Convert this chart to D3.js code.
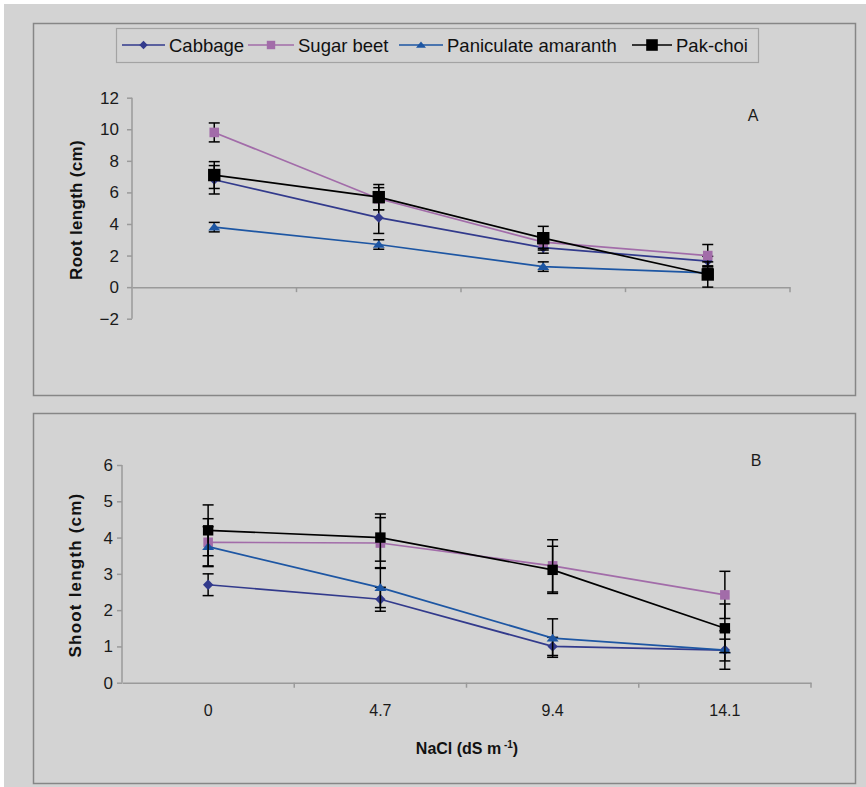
<!DOCTYPE html>
<html>
<head>
<meta charset="utf-8">
<script src="https://cdn.jsdelivr.net/npm/d3@7"></script>
<style>
  html, body { margin: 0; padding: 0; background: #fff; }
  svg { display: block; font-family: "Liberation Sans", Arial, sans-serif; }
  .ax line, .ax path { stroke: #9a9a9a; stroke-width: 1.5; }
  .ax text { fill: #1a1a1a; font-size: 17px; }
</style>
</head>
<body>
<div id="chart"></div>
<script>
"use strict";

var categories = ["0", "4.7", "9.4", "14.1"];
var seriesNames = ["Cabbage", "Sugar beet", "Paniculate amaranth", "Pak-choi"];
var seriesColors = ["#323a8c", "#a26ca9", "#1d56a3", "#000000"];
var seriesShapes = ["diamond", "square", "triangle", "bigsquare"];

// panel A - root length (cm)
var rootCabbage = [6.8, 4.4, 2.5, 1.65];
var rootCabbageErr = [0.9, 1.0, 0.35, 0.3];
var rootSugar = [9.8, 5.6, 2.85, 2.0];
var rootSugarErr = [0.6, 0.7, 0.4, 0.7];
var rootAmaranth = [3.8, 2.7, 1.3, 0.9];
var rootAmaranthErr = [0.3, 0.3, 0.3, 0.3];
var rootPak = [7.1, 5.7, 3.1, 0.8];
var rootPakErr = [0.85, 0.8, 0.75, 0.8];
var rootTicks = [-2, 0, 2, 4, 6, 8, 10, 12];

// panel B - shoot length (cm)
var shootCabbage = [2.7, 2.3, 1.0, 0.9];
var shootCabbageErr = [0.3, 0.33, 0.25, 0.53];
var shootSugar = [3.87, 3.85, 3.22, 2.42];
var shootSugarErr = [0.65, 0.7, 0.72, 0.65];
var shootAmaranth = [3.75, 2.62, 1.23, 0.9];
var shootAmaranthErr = [0.55, 0.55, 0.53, 0.3];
var shootPak = [4.2, 4.0, 3.11, 1.5];
var shootPakErr = [0.7, 0.65, 0.65, 0.67];
var shootTicks = [0, 1, 2, 3, 4, 5, 6];

var width = 866, height = 787;

var svg = d3.select("#chart").append("svg")
    .attr("width", width)
    .attr("height", height);

svg.append("rect").attr("x", 4).attr("y", 4)
    .attr("width", width - 4).attr("height", height - 4)
    .attr("fill", "#d3d3d3");

// panel frames
svg.append("rect").attr("x", 33.5).attr("y", 23.5).attr("width", 822).attr("height", 372)
    .attr("fill", "none").attr("stroke", "#868686").attr("stroke-width", 1.5);
svg.append("rect").attr("x", 33.5).attr("y", 413.5).attr("width", 822).attr("height", 370)
    .attr("fill", "none").attr("stroke", "#868686").attr("stroke-width", 1.5);

function markerPath(shape, s) {
    if (shape == "diamond") {
        return "M0," + (-s) + "L" + s + ",0L0," + s + "L" + (-s) + ",0Z";
    }
    if (shape == "triangle") {
        var h = s * 1.15;
        return "M0," + (-h * 0.62) + "L" + s + "," + (h * 0.48) + "L" + (-s) + "," + (h * 0.48) + "Z";
    }
    return "M" + (-s) + "," + (-s) + "H" + s + "V" + s + "H" + (-s) + "Z";
}

function drawPanel(opt) {
    var x = d3.scaleBand().domain(categories).range([opt.x0, opt.x1]);
    var y = d3.scaleLinear().domain(opt.yDomain).range([opt.yBottom, opt.yTop]);
    var cx = function(i) { return x(categories[i]) + x.bandwidth() / 2; };

    // y axis
    var yAxis = svg.append("g").attr("class", "ax")
        .attr("transform", "translate(" + opt.x0 + ",0)")
        .call(d3.axisLeft(y).tickValues(opt.ticks).tickFormat(d3.format("d"))
            .tickSize(5).tickPadding(opt.tickPad).tickSizeOuter(0));
    yAxis.select(".domain").attr("d", "M0," + y(opt.yDomain[0]) + "V" + y(opt.yDomain[1]));

    // x axis at y = 0
    var xAxis = svg.append("g").attr("class", "ax")
        .attr("transform", "translate(0," + y(0) + ")")
        .call(d3.axisBottom(x).tickSize(0).tickSizeOuter(0).tickFormat(opt.showX ? null : ""));
    xAxis.selectAll(".tick text").attr("dy", "1.2em").attr("y", 14).style("font-size", "16px");
    var bounds = categories.slice(1).map(function(c) { return x(c); }).concat([opt.x1]);
    xAxis.selectAll(".bound").data(bounds).enter().append("line")
        .attr("x1", function(d) { return d; }).attr("x2", function(d) { return d; })
        .attr("y1", 0).attr("y2", 5);

    var line = d3.line()
        .x(function(d, i) { return cx(i); })
        .y(function(d) { return y(d); });

    opt.series.forEach(function(vals, k) {
        var g = svg.append("g");
        g.append("path").datum(vals)
            .attr("d", line)
            .attr("fill", "none")
            .attr("stroke", seriesColors[k])
            .attr("stroke-width", 1.7);

        var eb = g.selectAll(".eb").data(vals).enter().append("g")
            .attr("stroke", "#000").attr("stroke-width", 1.5);
        eb.append("line")
            .attr("x1", function(d, i) { return cx(i); })
            .attr("x2", function(d, i) { return cx(i); })
            .attr("y1", function(d, i) { return y(d + opt.errs[k][i]); })
            .attr("y2", function(d, i) { return y(d - opt.errs[k][i]); });
        [1, -1].forEach(function(sg) {
            eb.append("line")
                .attr("x1", function(d, i) { return cx(i) - 5.5; })
                .attr("x2", function(d, i) { return cx(i) + 5.5; })
                .attr("y1", function(d, i) { return y(d + sg * opt.errs[k][i]); })
                .attr("y2", function(d, i) { return y(d + sg * opt.errs[k][i]); });
        });

        g.selectAll(".mk").data(vals).enter().append("path")
            .attr("transform", function(d, i) { return "translate(" + cx(i) + "," + y(d) + ")"; })
            .attr("d", markerPath(seriesShapes[k], opt.sizes[k]))
            .attr("fill", seriesColors[k]);
    });

    svg.append("text")
        .attr("transform", "translate(" + opt.titleX + "," + opt.titleY + ") rotate(-90)")
        .attr("text-anchor", "middle")
        .attr("font-weight", "bold")
        .attr("font-size", opt.titleSize)
        .attr("letter-spacing", opt.titleSpacing)
        .attr("fill", "#111")
        .text(opt.title);

    svg.append("text")
        .attr("x", opt.tagX).attr("y", opt.tagY)
        .attr("text-anchor", "middle")
        .attr("font-size", 16)
        .attr("fill", "#1a1a1a")
        .text(opt.tag);
}

drawPanel({
    x0: 132, x1: 790, yTop: 97.7, yBottom: 318.7, yDomain: [-2, 12],
    ticks: rootTicks, tickPad: 8, showX: false,
    series: [rootCabbage, rootSugar, rootAmaranth, rootPak],
    errs: [rootCabbageErr, rootSugarErr, rootAmaranthErr, rootPakErr],
    sizes: [5, 4.8, 6, 6.2],
    title: "Root length (cm)", titleX: 82, titleY: 210, titleSize: 17, titleSpacing: 0.3,
    tag: "A", tagX: 753, tagY: 121
});

drawPanel({
    x0: 122, x1: 811, yTop: 465, yBottom: 682.7, yDomain: [0, 6],
    ticks: shootTicks, tickPad: 4, showX: true,
    series: [shootCabbage, shootSugar, shootAmaranth, shootPak],
    errs: [shootCabbageErr, shootSugarErr, shootAmaranthErr, shootPakErr],
    sizes: [5.2, 4.8, 6, 5.2],
    title: "Shoot length (cm)", titleX: 81, titleY: 575, titleSize: 17, titleSpacing: 1.2,
    tag: "B", tagX: 756, tagY: 466
});

// x axis title
var xt = svg.append("text")
    .attr("x", 467).attr("y", 754)
    .attr("text-anchor", "middle")
    .attr("font-weight", "bold")
    .attr("font-size", 16)
    .attr("fill", "#111");
xt.append("tspan").text("NaCl (dS m");
xt.append("tspan").attr("font-size", 10).attr("dy", -6).text(" -1");
xt.append("tspan").attr("dy", 6).text(")");

// legend
svg.append("rect").attr("x", 116.5).attr("y", 28.5).attr("width", 642).attr("height", 34)
    .attr("fill", "none").attr("stroke", "#a3a3a3").attr("stroke-width", 1.2);

var legendX = [122, 248, 399, 632];
var legendW = [43, 46, 44, 40];
var legendSizes = [4.2, 4.2, 5, 5.8];
var leg = svg.selectAll(".leg").data(seriesNames).enter().append("g")
    .attr("transform", function(d, i) { return "translate(" + legendX[i] + ",45)"; });
leg.append("line")
    .attr("x1", 0).attr("x2", function(d, i) { return legendW[i]; })
    .attr("stroke", function(d, i) { return seriesColors[i]; })
    .attr("stroke-width", 1.7);
leg.append("path")
    .attr("transform", function(d, i) { return "translate(" + legendW[i] / 2 + ",0)"; })
    .attr("d", function(d, i) { return markerPath(seriesShapes[i], legendSizes[i]); })
    .attr("fill", function(d, i) { return seriesColors[i]; });
leg.append("text")
    .attr("x", function(d, i) { return legendW[i] + 4; })
    .attr("y", 7)
    .attr("font-size", 18.5)
    .attr("fill", "#111")
    .text(function(d) { return d; });
</script>
</body>
</html>
